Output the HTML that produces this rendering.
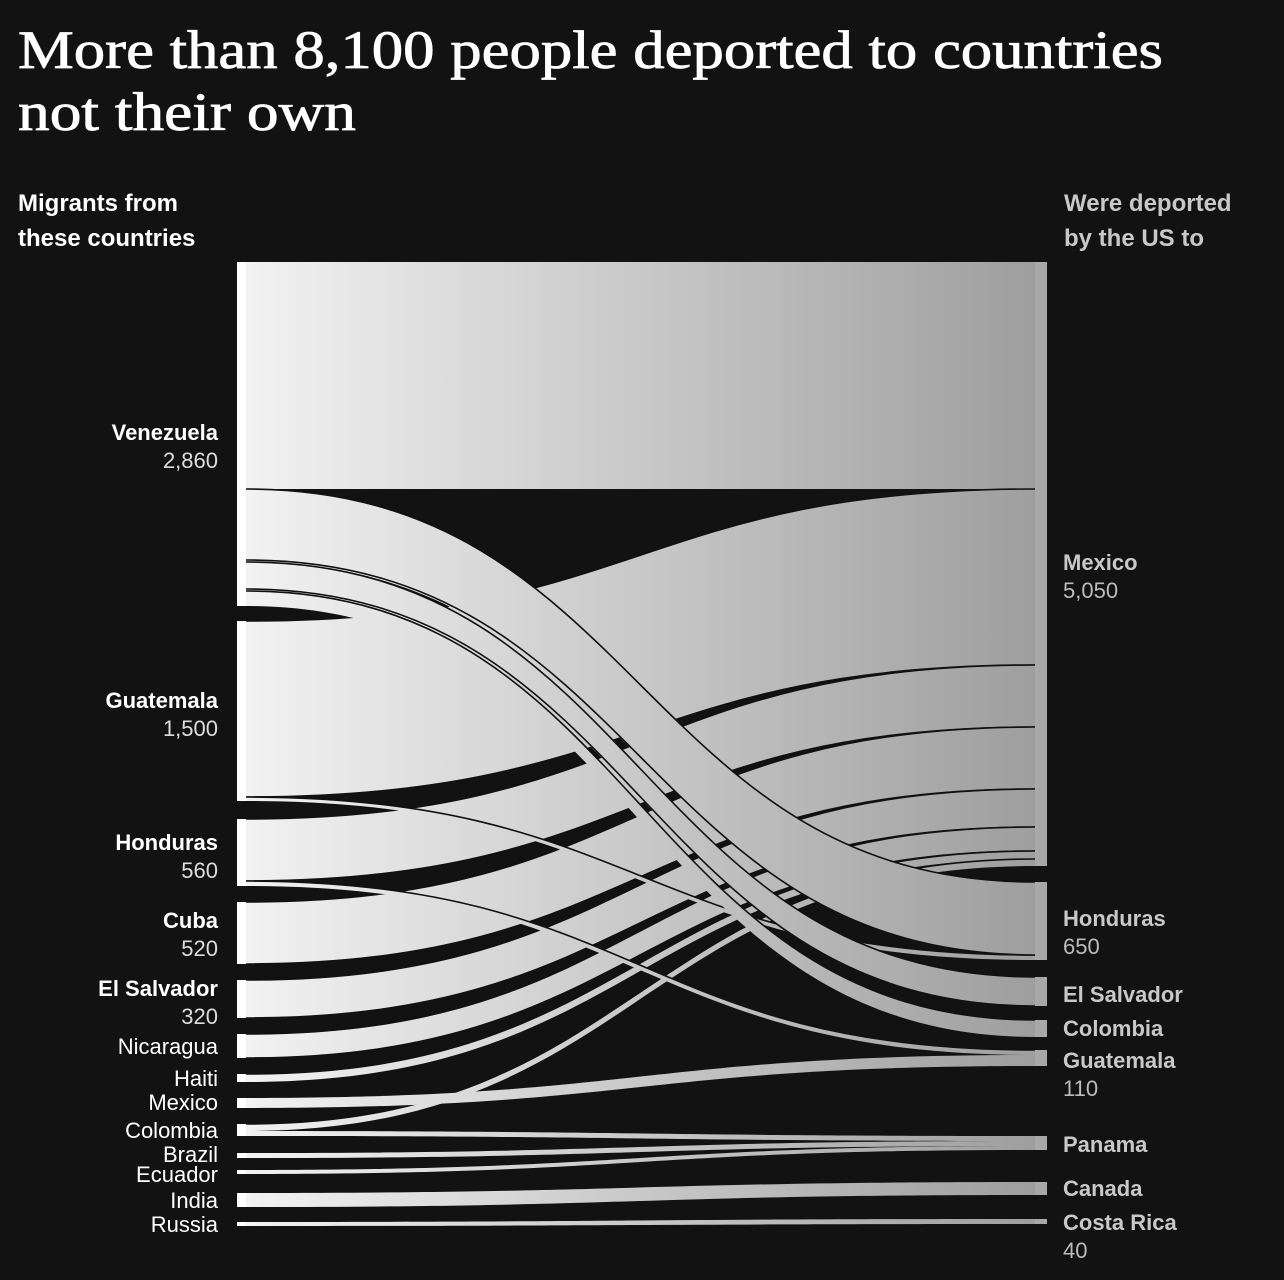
<!DOCTYPE html>
<html><head><meta charset="utf-8"><style>
html,body{margin:0;padding:0;background:#121212;}
svg{display:block;}
text{font-family:"Liberation Sans",sans-serif;}
.f{fill:url(#g);stroke:none;}
.e{fill:none;stroke:#111;stroke-width:1.6;}
</style></head><body>
<svg width="1284" height="1280" viewBox="0 0 1284 1280" xmlns="http://www.w3.org/2000/svg">
<defs>
<linearGradient id="g" gradientUnits="userSpaceOnUse" x1="246" y1="0" x2="1036" y2="0">
<stop offset="0" stop-color="#f2f2f2"/><stop offset="1" stop-color="#9e9e9e"/>
</linearGradient>
</defs>
<rect width="1284" height="1280" fill="#121212"/>
<text x="18" y="68" fill="#fff" style="font-family:'Liberation Serif',serif" font-size="54" stroke="#fff" stroke-width="0.8" textLength="1145" lengthAdjust="spacingAndGlyphs">More than 8,100 people deported to countries</text>
<text x="18" y="130" fill="#fff" style="font-family:'Liberation Serif',serif" font-size="54" stroke="#fff" stroke-width="0.8" textLength="338" lengthAdjust="spacingAndGlyphs">not their own</text>
<g font-size="24" font-weight="bold" fill="#fff">
<text x="18" y="211">Migrants from</text>
<text x="18" y="246">these countries</text>
</g>
<g font-size="24" font-weight="bold" fill="#c8c8c8">
<text x="1064" y="211">Were deported</text>
<text x="1064" y="246">by the US to</text>
</g>
<rect x="246" y="262" width="790" height="227" fill="url(#g)"/>
<!-- to Mexico -->
<path class="f" d="M246,621 C641,621 641,489 1036,489 L1036,665 C641,665 641,797 246,797 Z"/>
<path class="e" d="M246,621 C641,621 641,489 1036,489 M1036,665 C641,665 641,797 246,797"/>
<path class="f" d="M246,819 C641,819 641,665 1036,665 L1036,727 C641,727 641,881 246,881 Z"/>
<path class="e" d="M246,819 C641,819 641,665 1036,665 M1036,727 C641,727 641,881 246,881"/>
<path class="f" d="M246,902 C641,902 641,727 1036,727 L1036,789 C641,789 641,964 246,964 Z"/>
<path class="e" d="M246,902 C641,902 641,727 1036,727 M1036,789 C641,789 641,964 246,964"/>
<path class="f" d="M246,980 C641,980 641,789 1036,789 L1036,827 C641,827 641,1018 246,1018 Z"/>
<path class="e" d="M246,980 C641,980 641,789 1036,789 M1036,827 C641,827 641,1018 246,1018"/>
<path class="f" d="M246,1034 C641,1034 641,827 1036,827 L1036,851 C641,851 641,1058 246,1058 Z"/>
<path class="e" d="M246,1034 C641,1034 641,827 1036,827 M1036,851 C641,851 641,1058 246,1058"/>
<path class="f" d="M246,1074 C641,1074 641,851 1036,851 L1036,859 C641,859 641,1082 246,1082 Z"/>
<path class="e" d="M246,1074 C641,1074 641,851 1036,851"/>
<path class="f" d="M246,1124 C641,1124 641,859 1036,859 L1036,866 C641,866 641,1131 246,1131 Z"/>
<path class="e" d="M246,1124 C641,1124 641,859 1036,859"/>
<!-- others -->
<path class="f" d="M246,797 C641,797 641,955 1036,955 L1036,960 C641,960 641,801 246,801 Z"/>
<path class="e" d="M246,797 C641,797 641,955 1036,955"/>
<path class="f" d="M246,881 C641,881 641,1050 1036,1050 L1036,1055 C641,1055 641,886 246,886 Z"/>
<path class="e" d="M246,881 C641,881 641,1050 1036,1050"/>
<path class="f" d="M246,1098 C641,1098 641,1055 1036,1055 L1036,1066 C641,1066 641,1108 246,1108 Z"/>
<path class="f" d="M246,1131 C641,1131 641,1136 1036,1136 L1036,1141 C641,1141 641,1136 246,1136 Z"/>
<path class="f" d="M246,1153 C641,1153 641,1141 1036,1141 L1036,1146 C641,1146 641,1158 246,1158 Z"/>
<path class="f" d="M246,1170 C641,1170 641,1146 1036,1146 L1036,1150 C641,1150 641,1174 246,1174 Z"/>
<path class="f" d="M246,1193 C641,1193 641,1182 1036,1182 L1036,1195 C641,1195 641,1207 246,1207 Z"/>
<path class="f" d="M246,1222 C641,1222 641,1219 1036,1219 L1036,1224 C641,1224 641,1226 246,1226 Z"/>
<!-- Venezuela crossings -->
<path class="f" d="M246,591 C641,591 641,1020 1036,1020 L1036,1037 C641,1037 641,606 246,606 Z"/>
<path class="f" d="M246,562 C641,562 641,977 1036,977 L1036,1006 C641,1006 641,591 246,591 Z"/>
<path class="f" d="M246,489 C641,489 641,882 1036,882 L1036,955 C641,955 641,562 246,562 Z"/>
<path class="e" d="M246,489 C641,489 641,882 1036,882 M246,562 C641,562 641,977 1036,977 M246,591 C641,591 641,1020 1036,1020"/>
<path class="e" stroke-width="1.2" d="M246,560 C641,560 641,955 1036,955 M246,589 C641,589 641,1006 1036,1006"/>
<!-- left bars -->
<g fill="#fff">
<rect x="237" y="262" width="9" height="344"/>
<rect x="237" y="621" width="9" height="180"/>
<rect x="237" y="819" width="9" height="67"/>
<rect x="237" y="902" width="9" height="62"/>
<rect x="237" y="980" width="9" height="38"/>
<rect x="237" y="1034" width="9" height="24"/>
<rect x="237" y="1074" width="9" height="8"/>
<rect x="237" y="1098" width="9" height="10"/>
<rect x="237" y="1124" width="9" height="12"/>
<rect x="237" y="1153" width="9" height="5"/>
<rect x="237" y="1170" width="9" height="4"/>
<rect x="237" y="1193" width="9" height="14"/>
<rect x="237" y="1222" width="9" height="4"/>
</g>
<g fill="#a8a8a8">
<rect x="1035" y="262" width="12" height="604"/>
<rect x="1035" y="882" width="12" height="78"/>
<rect x="1035" y="977" width="12" height="29"/>
<rect x="1035" y="1020" width="12" height="17"/>
<rect x="1035" y="1050" width="12" height="16"/>
<rect x="1035" y="1136" width="12" height="14"/>
<rect x="1035" y="1182" width="12" height="13"/>
<rect x="1035" y="1219" width="12" height="5"/>
</g>
<g font-size="22" text-anchor="end" fill="#fff">
<text x="218" y="440" font-weight="bold">Venezuela</text>
<text x="218" y="468" fill="#ddd">2,860</text>
<text x="218" y="708" font-weight="bold">Guatemala</text>
<text x="218" y="736" fill="#ddd">1,500</text>
<text x="218" y="850" font-weight="bold">Honduras</text>
<text x="218" y="878" fill="#ddd">560</text>
<text x="218" y="928" font-weight="bold">Cuba</text>
<text x="218" y="956" fill="#ddd">520</text>
<text x="218" y="996" font-weight="bold">El Salvador</text>
<text x="218" y="1024" fill="#ddd">320</text>
<text x="218" y="1054">Nicaragua</text>
<text x="218" y="1086">Haiti</text>
<text x="218" y="1110">Mexico</text>
<text x="218" y="1138">Colombia</text>
<text x="218" y="1162">Brazil</text>
<text x="218" y="1182">Ecuador</text>
<text x="218" y="1208">India</text>
<text x="218" y="1232">Russia</text>
</g>
<g font-size="22" fill="#c8c8c8">
<text x="1063" y="570" font-weight="bold">Mexico</text>
<text x="1063" y="598" fill="#bbb">5,050</text>
<text x="1063" y="926" font-weight="bold">Honduras</text>
<text x="1063" y="954" fill="#bbb">650</text>
<text x="1063" y="1002" font-weight="bold">El Salvador</text>
<text x="1063" y="1036" font-weight="bold">Colombia</text>
<text x="1063" y="1068" font-weight="bold">Guatemala</text>
<text x="1063" y="1096" fill="#bbb">110</text>
<text x="1063" y="1152" font-weight="bold">Panama</text>
<text x="1063" y="1196" font-weight="bold">Canada</text>
<text x="1063" y="1230" font-weight="bold">Costa Rica</text>
<text x="1063" y="1258" fill="#bbb">40</text>
</g>
</svg>
</body></html>
